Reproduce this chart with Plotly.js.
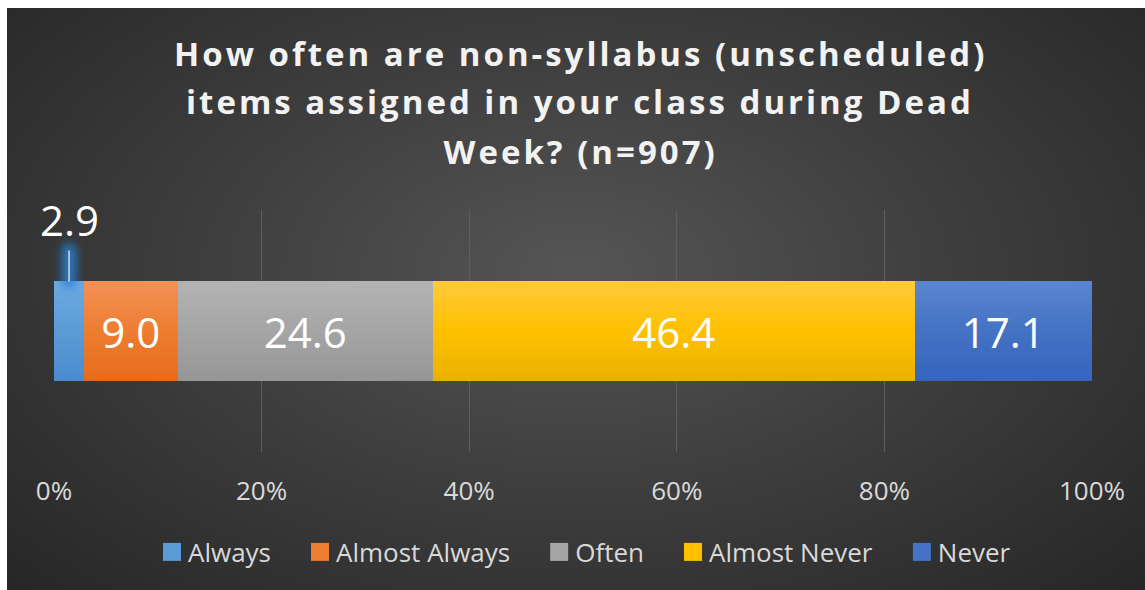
<!DOCTYPE html>
<html>
<head>
<meta charset="utf-8">
<script src="https://cdn.plot.ly/plotly-3.0.1.min.js"></script>
<style>
  html, body { margin: 0; padding: 0; background: #ffffff; width: 1145px; height: 590px; overflow: hidden; }
  #chart {
    position: absolute; left: 7px; top: 8px; width: 1138px; height: 582px;
    background: radial-gradient(ellipse 70% 80% at 50% 45%, #555555 0%, #3f3f3f 45%, #262626 100%);
  }
</style>
</head>
<body>
<div id="chart"></div>
<script>
const categories = ["Always", "Almost Always", "Often", "Almost Never", "Never"];
const values = [2.9, 9.0, 24.6, 46.4, 17.1];
const colors = ["#5b9bd5", "#ed7d31", "#a5a5a5", "#ffc000", "#4472c4"];
const colorsTop = ["#6eaae2", "#f39157", "#b3b3b3", "#ffca3a", "#5b86cf"];
const colorsBottom = ["#4a8bcf", "#e66c1c", "#969696", "#e9b200", "#3565bd"];
const tickVals = [0, 20, 40, 60, 80, 100];
const tickLabels = ["0%", "20%", "40%", "60%", "80%", "100%"];
const titleLines = [
  "How often are non-syllabus (unscheduled)",
  "items assigned in your class during Dead",
  "Week? (n=907)"
];

const LABEL_FONT = "Open Sans, Noto Sans, sans-serif";

const traces = categories.map((c, i) => ({
  type: "bar",
  orientation: "h",
  name: c,
  x: [values[i]],
  y: [0],
  marker: { color: colors[i], line: { width: 0 } },
  text: i === 0 ? [""] : [values[i].toFixed(1)],
  texttemplate: i === 0 ? "" : "%{text}",
  textposition: "inside",
  insidetextanchor: "middle",
  textangle: 0,
  textfont: { family: LABEL_FONT, size: 42, color: "#ffffff" },
  hoverinfo: "skip",
  cliponaxis: false
}));

const bargap = 0.59;
const barTop = (1 - bargap) / 2;

// plot area: page y 210..452 (242 px)
const titleCenters = [54, 103, 152];
const titleAnnotations = titleLines.map((t, i) => ({
  text: "<b>" + t + "</b>",
  xref: "paper", yref: "paper",
  x: (580 - 54) / 1038, y: (452 - titleCenters[i] + 1) / 242,
  xanchor: "center", yanchor: "middle",
  showarrow: false,
  font: { family: "Open Sans, sans-serif", size: 33, color: "#f2f2f2" }
}));

const layout = {
  width: 1138,
  height: 582,
  paper_bgcolor: "rgba(0,0,0,0)",
  plot_bgcolor: "rgba(0,0,0,0)",
  margin: { l: 47, r: 53, t: 202, b: 138 },
  barmode: "stack",
  bargap: bargap,
  showlegend: true,
  xaxis: {
    range: [0, 100],
    tickvals: tickVals,
    ticktext: tickLabels,
    showgrid: true,
    gridcolor: "#5e5e5e",
    gridwidth: 1,
    zeroline: false,
    showline: false,
    ticks: "",
    ticklabelstandoff: 21,
    tickfont: { family: LABEL_FONT, size: 26, color: "#d9d9d9" },
    fixedrange: true
  },
  yaxis: {
    range: [-0.5, 0.5],
    showticklabels: false,
    showgrid: false,
    zeroline: false,
    showline: false,
    ticks: "",
    fixedrange: true
  },
  legend: {
    orientation: "h",
    x: 0.5, xanchor: "center",
    y: -100 / 242, yanchor: "middle",
    font: { family: LABEL_FONT, size: 26, color: "#d9d9d9" },
    traceorder: "normal",
    itemclick: false, itemdoubleclick: false,
    bgcolor: "rgba(0,0,0,0)"
  },
  annotations: titleAnnotations.concat([{
    x: values[0] / 2, y: barTop, xref: "x", yref: "y",
    text: values[0].toFixed(1),
    showarrow: true, arrowhead: 0, arrowwidth: 1.5, arrowcolor: "#d9d9d9",
    ax: 0, ay: -62, standoff: 0, borderpad: 2,
    font: { family: LABEL_FONT, size: 42, color: "#ffffff" }
  }])
};

Plotly.newPlot("chart", traces, layout, { displayModeBar: false, staticPlot: true }).then(gd => {
  const svgNS = "http://www.w3.org/2000/svg";
  const svg = gd.querySelector("svg.main-svg");
  let defs = svg.querySelector("defs");
  if (!defs) { defs = document.createElementNS(svgNS, "defs"); svg.insertBefore(defs, svg.firstChild); }
  colors.forEach((c, i) => {
    const g = document.createElementNS(svgNS, "linearGradient");
    g.setAttribute("id", "bargrad" + i);
    g.setAttribute("x1", "0"); g.setAttribute("y1", "0");
    g.setAttribute("x2", "0"); g.setAttribute("y2", "1");
    [[0, colorsTop[i]], [0.5, colors[i]], [1, colorsBottom[i]]].forEach(([o, col]) => {
      const s = document.createElementNS(svgNS, "stop");
      s.setAttribute("offset", o); s.setAttribute("stop-color", col);
      g.appendChild(s);
    });
    defs.appendChild(g);
  });
  const f = document.createElementNS(svgNS, "filter");
  f.setAttribute("id", "glow");
  f.setAttribute("filterUnits", "userSpaceOnUse");
  f.setAttribute("x", "-2000"); f.setAttribute("y", "-2000");
  f.setAttribute("width", "5000"); f.setAttribute("height", "5000");
  const blur = document.createElementNS(svgNS, "feGaussianBlur");
  blur.setAttribute("in", "SourceGraphic");
  blur.setAttribute("stdDeviation", "5");
  f.appendChild(blur);
  defs.appendChild(f);

  gd.querySelectorAll(".barlayer .trace").forEach((tr, i) => {
    tr.querySelectorAll(".point path").forEach(p => { p.style.fill = "url(#bargrad" + i + ")"; });
  });

  const anns = gd.querySelectorAll(".annotation");
  for (let i = 0; i < titleLines.length; i++) {
    const t = anns[i] && anns[i].querySelector("text");
    if (t) t.style.letterSpacing = "3px";
  }

  const arrowPath = gd.querySelector(".annotation-arrow-g path");
  if (arrowPath) {
    const glow = arrowPath.cloneNode(true);
    glow.style.stroke = "#2a7fd4";
    glow.style.strokeWidth = "14px";
    glow.style.strokeOpacity = "0.9";
    glow.style.strokeLinecap = "round";
    glow.setAttribute("filter", "url(#glow)");
    arrowPath.parentNode.insertBefore(glow, arrowPath);
  }

  // legend: bigger squares and wider spacing (matching the reference)
  const extra = 20;
  const leg = gd.querySelector("g.legend");
  if (leg) {
    leg.querySelectorAll("[clip-path]").forEach(e => e.removeAttribute("clip-path"));
    const items = leg.querySelectorAll(".traces");
    items.forEach((it, i) => {
      const m = /translate\(([-\d.]+)[, ]+([-\d.]+)\)/.exec(it.getAttribute("transform") || "");
      if (m) it.setAttribute("transform", "translate(" + (parseFloat(m[1]) + extra * i) + "," + m[2] + ")");
      it.querySelectorAll(".legendpoints path").forEach(p => {
        const t0 = p.getAttribute("transform") || "";
        p.setAttribute("transform", t0 + " translate(4,0) scale(1.5)");
      });
    });
    const m = /translate\(([-\d.]+)[, ]+([-\d.]+)\)/.exec(leg.getAttribute("transform") || "");
    if (m) leg.setAttribute("transform", "translate(" + (parseFloat(m[1]) - extra * (items.length - 1) / 2 + 9) + "," + m[2] + ")");
  }
});
</script>
</body>
</html>
